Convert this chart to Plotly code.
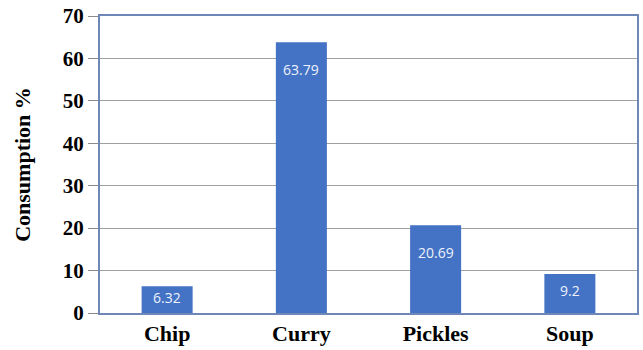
import plotly.graph_objects as go

categories = ["Chip", "Curry", "Pickles", "Soup"]
values = [6.32, 63.79, 20.69, 9.2]
value_labels = ["6.32", "63.79", "20.69", "9.2"]
y_ticks = [0, 10, 20, 30, 40, 50, 60, 70]

fig = go.Figure()
fig.add_trace(go.Bar(
    x=categories, y=values,
    marker=dict(color="#4472C4", line=dict(width=0)),
    cliponaxis=False,
))
# data labels placed inside the bar, below its top (Excel "inside end" look)
for cat, val, lab in zip(categories, values, value_labels):
    label_y = val - min(6.5, 0.42 * val)
    fig.add_annotation(
        x=cat, y=label_y, text=lab, showarrow=False,
        xref="x", yref="y", yanchor="middle",
        font=dict(family="Open Sans, sans-serif", size=14, color="#eef3fb"),
    )

serif = "Liberation Serif, Times New Roman, serif"
fig.update_layout(
    width=643, height=350,
    margin=dict(l=100, r=4, t=15, b=35),
    paper_bgcolor="white", plot_bgcolor="white",
    bargap=0.62, showlegend=False,
    xaxis=dict(
        showline=True, linecolor="#6f86b8", linewidth=2, mirror=True,
        tickfont=dict(family=serif, size=22, color="black", weight="bold"),
        ticks="", showgrid=False,
    ),
    yaxis=dict(
        range=[0, 70], tickvals=y_ticks,
        showline=True, linecolor="#6f86b8", linewidth=2, mirror=True,
        showgrid=True, gridcolor="#a0a0a0", gridwidth=1,
        ticks="outside", ticklen=10, tickcolor="#8a8a8a",
        tickfont=dict(family=serif, size=21, color="black", weight="bold"),
        title=dict(text="Consumption %", standoff=26,
                   font=dict(family=serif, size=22, color="black", weight="bold")),
        zeroline=False,
    ),
)
fig.write_html("out.html")
